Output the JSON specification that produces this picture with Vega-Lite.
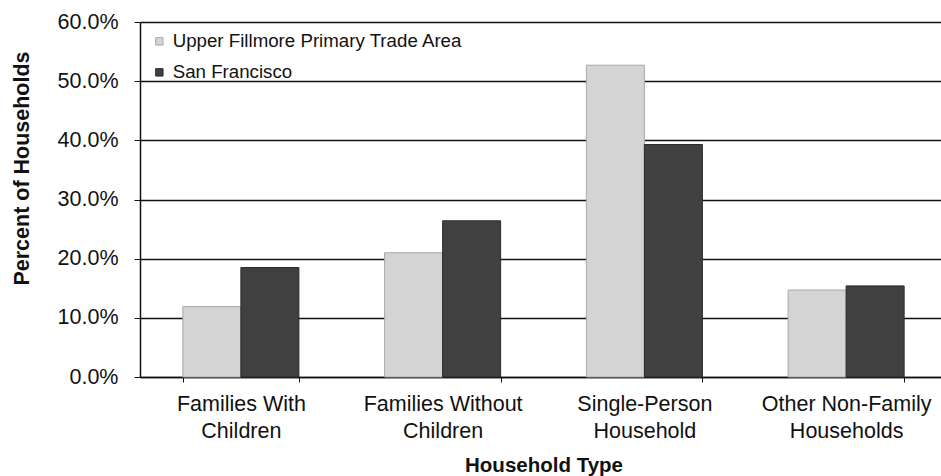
{
  "$schema": "https://vega.github.io/schema/vega-lite/v6.json",
  "autosize": "none",
  "width": 807,
  "height": 355,
  "padding": {"left": 140, "top": 22, "right": 0, "bottom": 99},
  "background": "white",
  "config": {
    "font": "Liberation Sans",
    "view": {"stroke": null},
    "axis": {
      "labelFont": "Liberation Sans",
      "titleFont": "Liberation Sans",
      "labelColor": "#111",
      "titleColor": "#111",
      "domainColor": "#111",
      "tickColor": "#111"
    }
  },
  "data": {
    "values": [
      {"type": "Families With|Children", "area": "Upper Fillmore Primary Trade Area", "share": 0.119},
      {"type": "Families With|Children", "area": "San Francisco", "share": 0.185},
      {"type": "Families Without|Children", "area": "Upper Fillmore Primary Trade Area", "share": 0.21},
      {"type": "Families Without|Children", "area": "San Francisco", "share": 0.264},
      {"type": "Single-Person|Household", "area": "Upper Fillmore Primary Trade Area", "share": 0.527},
      {"type": "Single-Person|Household", "area": "San Francisco", "share": 0.393},
      {"type": "Other Non-Family|Households", "area": "Upper Fillmore Primary Trade Area", "share": 0.147},
      {"type": "Other Non-Family|Households", "area": "San Francisco", "share": 0.154}
    ]
  },
  "mark": {"type": "bar", "strokeWidth": 1},
  "encoding": {
    "x": {
      "field": "type",
      "type": "nominal",
      "sort": null,
      "scale": {"paddingInner": 0.425, "paddingOuter": 0.2125},
      "axis": {
        "title": "Household Type",
        "titleFontSize": 20.5,
        "titleFontWeight": "bold",
        "titleBaseline": "alphabetic",
        "titleY": 94,
        "labelExpr": "split(datum.label, '|')",
        "labelAngle": 0,
        "labelFontSize": 21.5,
        "labelLineHeight": 27,
        "labelPadding": 11,
        "tickBand": "extent",
        "tickSize": 5,
        "domainWidth": 1.5,
        "grid": false
      }
    },
    "xOffset": {
      "field": "area",
      "type": "nominal",
      "sort": ["Upper Fillmore Primary Trade Area", "San Francisco"]
    },
    "y": {
      "field": "share",
      "type": "quantitative",
      "scale": {"domain": [0, 0.6], "nice": false},
      "axis": {
        "title": "Percent of Households",
        "titleFontSize": 21.5,
        "titleFontWeight": "bold",
        "titleAngle": 270,
        "titleAlign": "center",
        "titleBaseline": "alphabetic",
        "titleX": -112,
        "titleY": 146,
        "format": ".1%",
        "values": [0, 0.1, 0.2, 0.3, 0.4, 0.5, 0.6],
        "labelFontSize": 21.5,
        "labelPadding": 16,
        "tickSize": 6,
        "domainWidth": 1.5,
        "grid": true,
        "gridColor": "#111",
        "gridWidth": 1.5
      }
    },
    "color": {
      "field": "area",
      "type": "nominal",
      "sort": ["Upper Fillmore Primary Trade Area", "San Francisco"],
      "scale": {
        "domain": ["Upper Fillmore Primary Trade Area", "San Francisco"],
        "range": ["#d4d4d4", "#404040"]
      },
      "legend": {
        "title": null,
        "orient": "none",
        "legendX": 10,
        "legendY": 10,
        "symbolType": "square",
        "symbolSize": 55,
        "symbolStrokeWidth": 1,
        "symbolStrokeColor": "#888",
        "labelFontSize": 18.7,
        "labelColor": "#111",
        "labelLimit": 400,
        "labelOffset": 4,
        "rowPadding": 11
      }
    },
    "stroke": {
      "field": "area",
      "type": "nominal",
      "scale": {
        "domain": ["Upper Fillmore Primary Trade Area", "San Francisco"],
        "range": ["#a8a8a8", "#2a2a2a"]
      },
      "legend": null
    }
  }
}
